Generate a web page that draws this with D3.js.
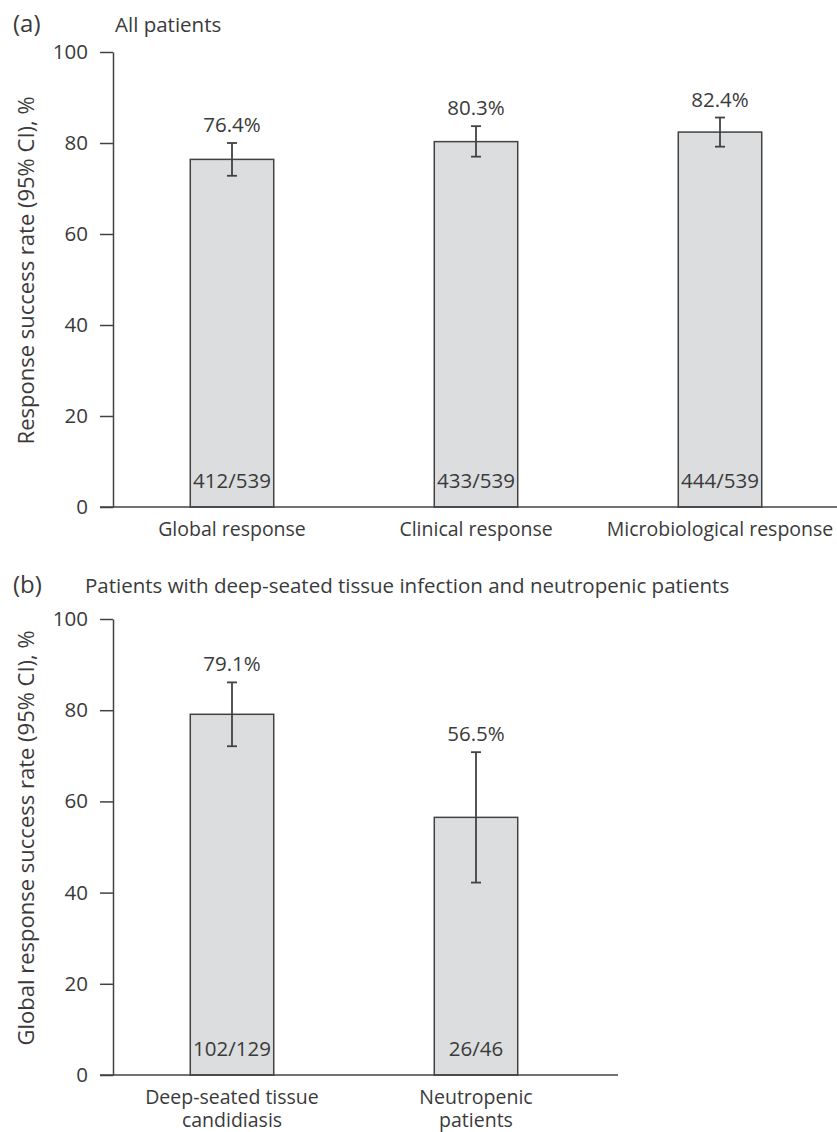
<!DOCTYPE html>
<html>
<head>
<meta charset="utf-8">
<script src="https://cdn.jsdelivr.net/npm/d3@7"></script>
<style>
  body { margin: 0; background: #fff; }
  text { font-family: "Open Sans", sans-serif; fill: #3a3a3a; }
</style>
</head>
<body>
<script>
const w = 837
const h = 1132

// Panel (a): all patients
const catsA = ["Global response", "Clinical response", "Microbiological response"]
const valuesA = [76.4, 80.3, 82.4]
const lowerA = [72.8, 77.0, 79.2]
const upperA = [80.0, 83.7, 85.6]
const countsA = ["412/539", "433/539", "444/539"]

// Panel (b): deep-seated tissue infection and neutropenic patients
const catsB = ["Deep-seated tissue candidiasis", "Neutropenic patients"]
const labelLinesB = [["Deep-seated tissue", "candidiasis"], ["Neutropenic", "patients"]]
const valuesB = [79.1, 56.5]
const lowerB = [72.1, 42.2]
const upperB = [86.1, 70.8]
const countsB = ["102/129", "26/46"]

const yTicks = [0, 20, 40, 60, 80, 100]

const panels = [
  { tag: "(a)", title: "All patients", titleX: 115, titleY: 32, top: 52, bottom: 507,
    ylabel: "Response success rate (95% CI), %",
    cats: catsA, lines: catsA.map(c => [c]), values: valuesA, lower: lowerA, upper: upperA, counts: countsA },
  { tag: "(b)", title: "Patients with deep-seated tissue infection and neutropenic patients", titleX: 85, titleY: 593, top: 619, bottom: 1075,
    ylabel: "Global response success rate (95% CI), %",
    cats: catsB, lines: labelLinesB, values: valuesB, lower: lowerB, upper: upperB, counts: countsB }
]

const axisX = 113
const step = 244
const startX = 110
const ink = "#424242"
const fs = "20.5px"

const svg = d3.select("body")
              .append("svg")
              .attr("width", w)
              .attr("height", h)

panels.forEach(p => {
  const g = svg.append("g")

  const y = d3.scaleLinear()
              .domain([0, 100])
              .range([p.bottom, p.top])

  const x = d3.scaleBand()
              .domain(p.cats)
              .range([startX, startX + step * p.cats.length])
              .paddingInner(0.658)
              .paddingOuter(0.329)

  // headings
  g.append("text")
    .attr("x", 13)
    .attr("y", p.titleY)
    .style("font-size", "24px")
    .text(p.tag)

  g.append("text")
    .attr("x", p.titleX)
    .attr("y", p.titleY)
    .style("font-size", fs)
    .text(p.title)

  // bars
  g.selectAll(".bar")
    .data(p.values)
    .enter()
    .append("rect")
    .attr("class", "bar")
    .attr("x", (d, i) => x(p.cats[i]))
    .attr("y", d => y(d))
    .attr("width", x.bandwidth())
    .attr("height", d => y(0) - y(d))
    .attr("fill", "#dcdddf")
    .attr("stroke", ink)
    .attr("stroke-width", 1.5)

  // error bars
  const cx = i => x(p.cats[i]) + x.bandwidth() / 2
  const err = g.selectAll(".err")
                .data(p.values)
                .enter()
                .append("g")
                .attr("stroke", ink)
                .attr("stroke-width", 1.8)

  err.append("line")
      .attr("x1", (d, i) => cx(i)).attr("x2", (d, i) => cx(i))
      .attr("y1", (d, i) => y(p.lower[i])).attr("y2", (d, i) => y(p.upper[i]))
  err.append("line")
      .attr("x1", (d, i) => cx(i) - 5).attr("x2", (d, i) => cx(i) + 5)
      .attr("y1", (d, i) => y(p.upper[i])).attr("y2", (d, i) => y(p.upper[i]))
  err.append("line")
      .attr("x1", (d, i) => cx(i) - 5).attr("x2", (d, i) => cx(i) + 5)
      .attr("y1", (d, i) => y(p.lower[i])).attr("y2", (d, i) => y(p.lower[i]))

  // percent labels above error bars
  g.selectAll(".pct")
    .data(p.values)
    .enter()
    .append("text")
    .attr("x", (d, i) => cx(i))
    .attr("y", (d, i) => y(p.upper[i]) - 11)
    .attr("text-anchor", "middle")
    .style("font-size", fs)
    .text(d => d.toFixed(1) + "%")

  // counts inside bars
  g.selectAll(".count")
    .data(p.counts)
    .enter()
    .append("text")
    .attr("x", (d, i) => cx(i))
    .attr("y", y(0) - 19)
    .attr("text-anchor", "middle")
    .style("font-size", fs)
    .text(d => d)

  // y axis
  const yAxis = d3.axisLeft(y)
                  .tickValues(yTicks)
                  .tickSize(13)
                  .tickSizeOuter(0)
                  .tickPadding(12)
  const ya = g.append("g")
              .attr("transform", `translate(${axisX}, 0)`)
              .call(yAxis)
  ya.selectAll("path, line").attr("stroke", ink).attr("stroke-width", 1.5)
  ya.selectAll("text")
    .style("font-size", fs)
    .style("font-family", "'Open Sans', sans-serif")
    .attr("fill", "#3a3a3a")

  // x baseline
  g.append("line")
    .attr("x1", axisX - 13)
    .attr("x2", x.range()[1] + 20)
    .attr("y1", y(0))
    .attr("y2", y(0))
    .attr("stroke", ink)
    .attr("stroke-width", 1.5)

  // category labels, one text per line
  p.lines.forEach((lines, i) => {
    lines.forEach((t, j) => {
      g.append("text")
        .attr("x", cx(i))
        .attr("y", y(0) + 29 + j * 23)
        .attr("text-anchor", "middle")
        .style("font-size", "19.5px")
        .text(t)
    })
  })

  // y title
  g.append("text")
    .attr("transform", `translate(34, ${y(52)}) rotate(-90)`)
    .attr("text-anchor", "middle")
    .style("font-size", "22px")
    .text(p.ylabel)
})
</script>
</body>
</html>
